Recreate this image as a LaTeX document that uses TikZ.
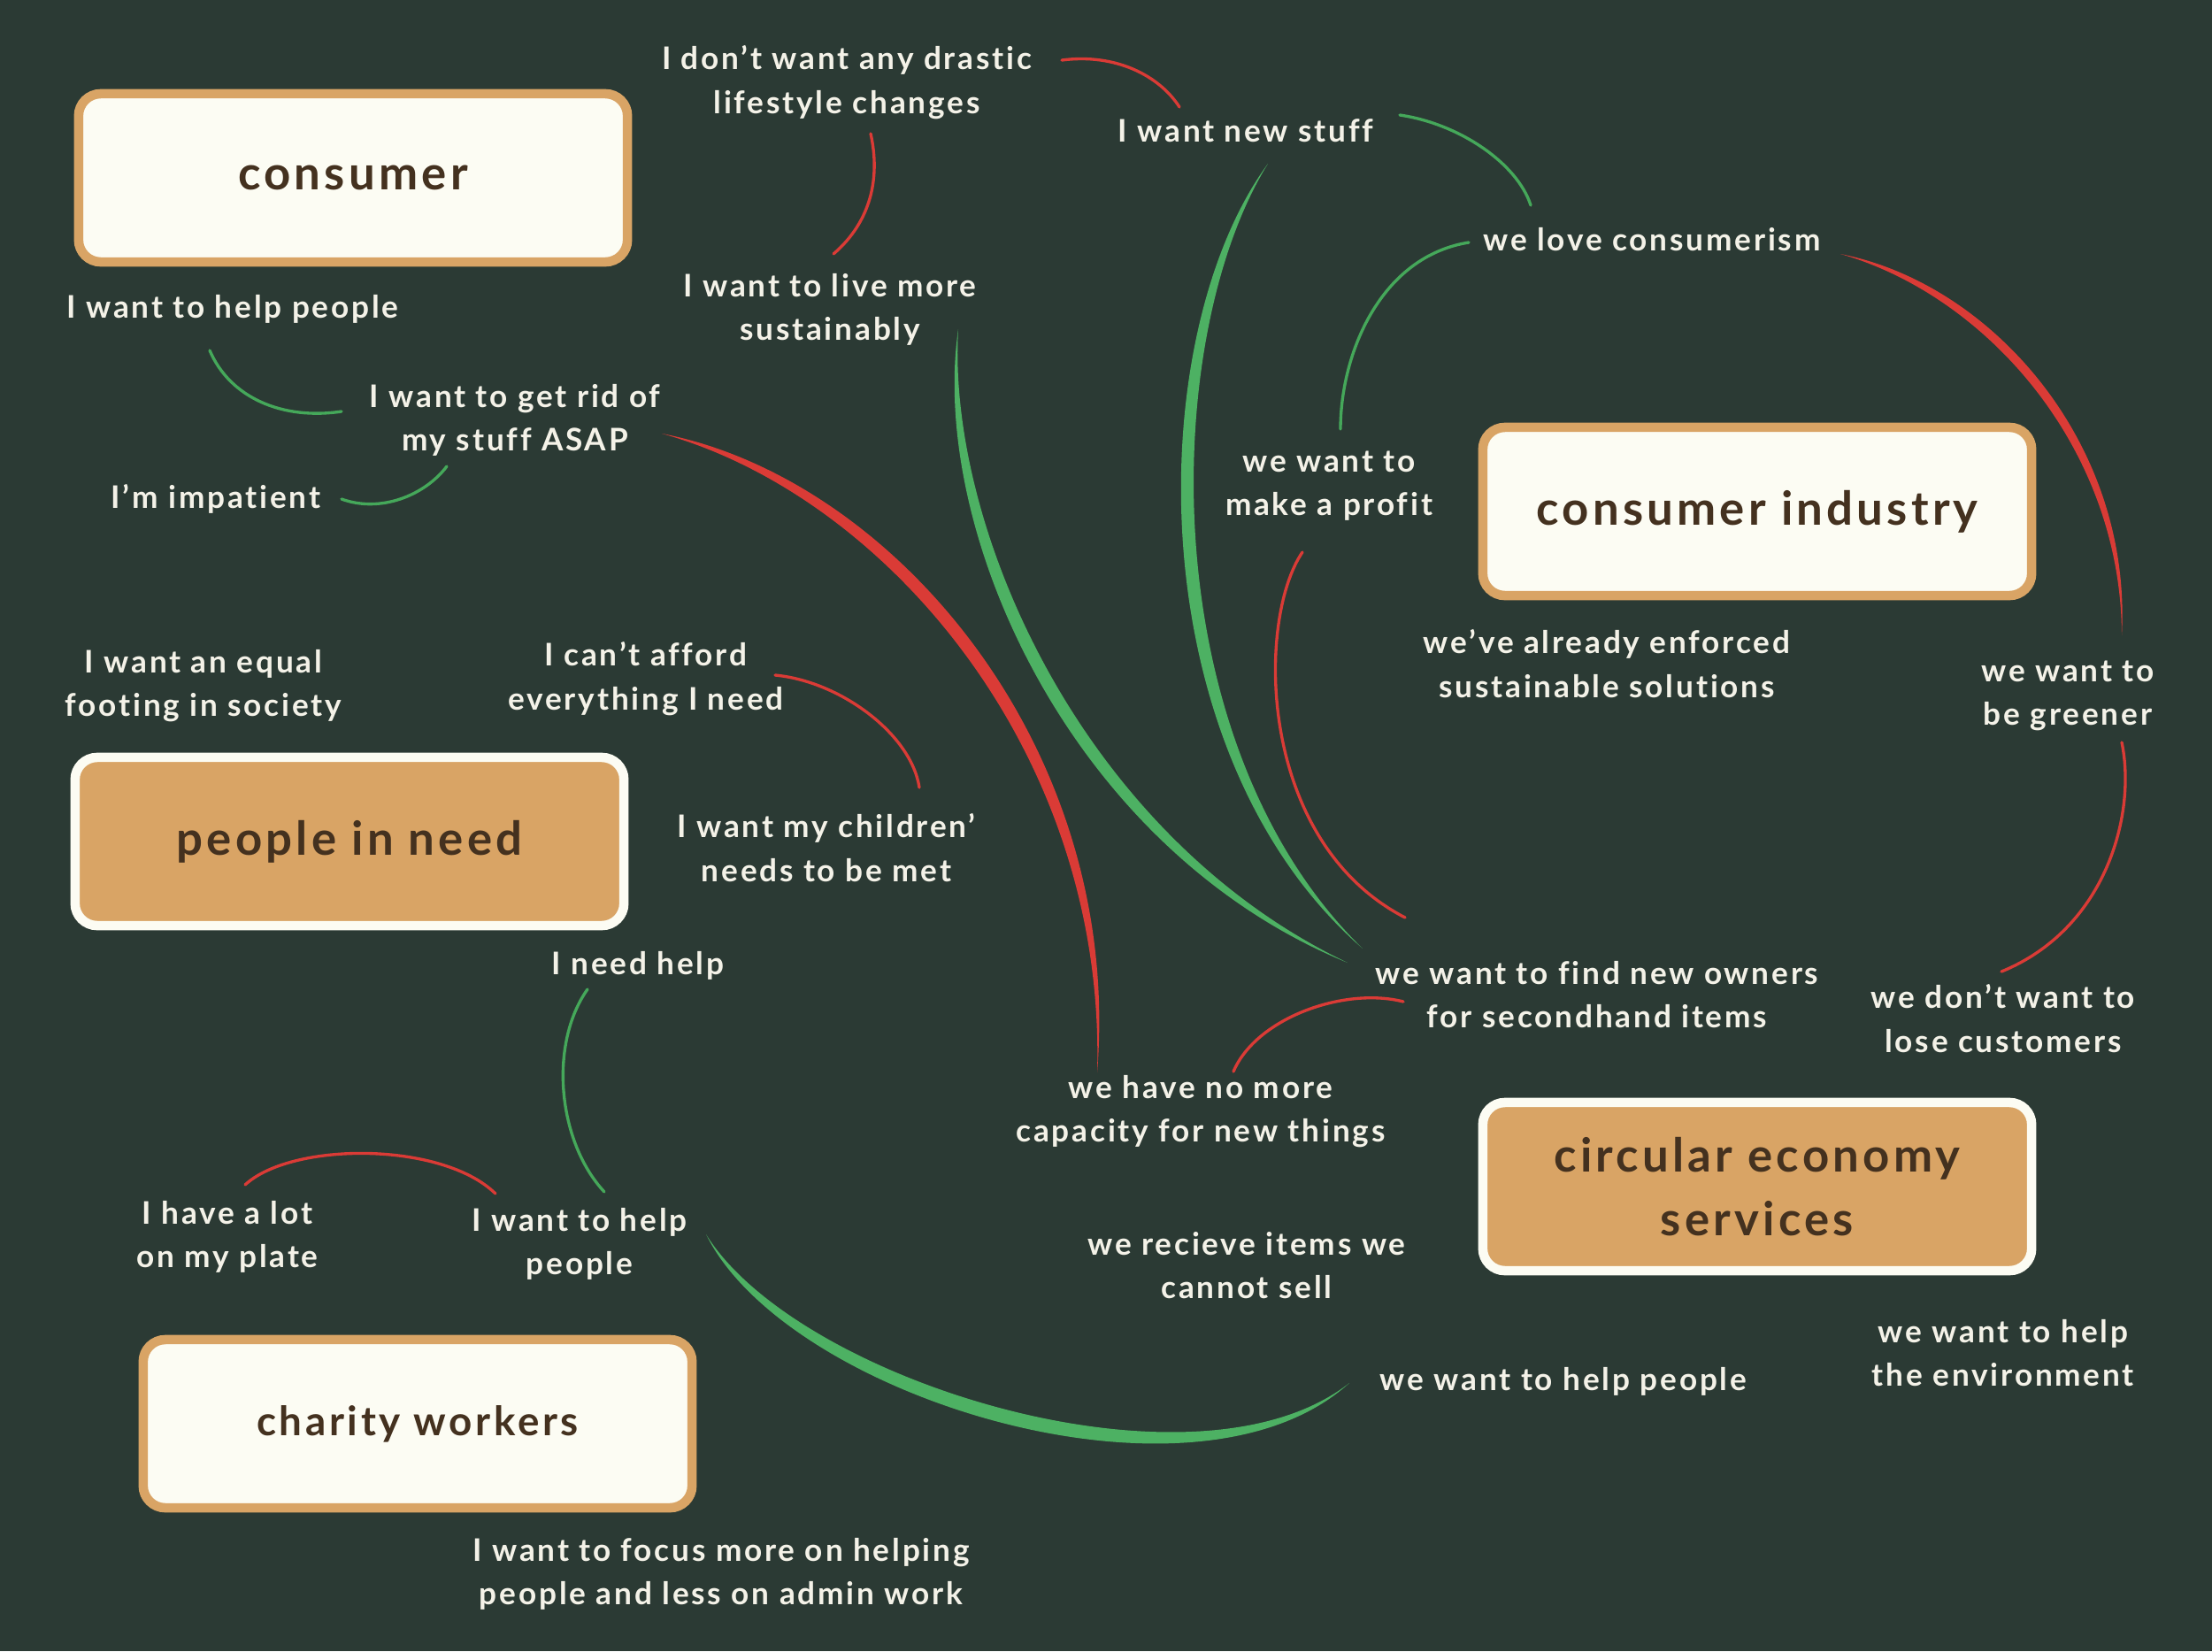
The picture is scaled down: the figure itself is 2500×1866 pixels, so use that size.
\documentclass[tikz,border=0pt]{standalone}
\usepackage{fontspec}
\setmainfont{Lato}[LetterSpace=8, Ligatures=CommonOff]
\usetikzlibrary{calc}
\definecolor{bg}{HTML}{2B3A34}
\definecolor{cream}{HTML}{FCFCF3}
\definecolor{tan}{HTML}{D9A465}
\definecolor{ink}{HTML}{44311F}
\definecolor{txt}{HTML}{F4F2E8}
\definecolor{gr}{HTML}{4DB163}
\definecolor{grthin}{HTML}{45A85A}
\definecolor{rd}{HTML}{DA3B36}
\newcommand\brushstroke[7]{\fill[#1] (#2) .. controls (#3) and (#4) .. (#5) .. controls ($(#4)+(#7)$) and ($(#3)+(#6)$) .. (#2);}
\tikzset{
  lbl/.style={text=txt, font=\fontsize{10}{14}\selectfont\bfseries, align=center, inner sep=0pt},
  boxw/.style={draw=tan, fill=cream, line width=3pt, rounded corners=0.25cm, minimum width=6.2cm, minimum height=1.9cm, text=ink, font=\fontsize{15}{20.4}\selectfont\bfseries, align=center},
  boxo/.style={boxw, draw=cream, fill=tan},
  thinr/.style={draw=rd, line width=0.95pt, line cap=round},
  thing/.style={draw=grthin, line width=0.95pt, line cap=round}
}
\begin{document}
\begin{tikzpicture}[x=0.01cm,y=-0.01cm]
\fill[bg] (0,0) rectangle (2500,1866);
\useasboundingbox (0,0) rectangle (2500,1866);

% boxes
\node[boxw] (consumer) at (399,201) {consumer};
\node[boxw] (industry) at (1986,578) {consumer industry};
\node[boxo] (need) at (395,951) {people in need};
\node[boxo] (circular) at (1986,1341) {circular economy\\services};
\node[boxw, font=\fontsize{13}{16}\selectfont\bfseries] (charity) at (472,1609) {charity workers};

% labels
\node[lbl] (n1) at (957,93) {I don’t want any drastic\\lifestyle changes};
\node[lbl] (n2) at (1408,148) {I want new stuff};
\node[lbl] (n3) at (1867,271) {we love consumerism};
\node[lbl] (n4) at (938,350) {I want to live more\\sustainably};
\node[lbl] (n5) at (263,349) {I want to help people};
\node[lbl] (n6) at (582,475) {I want to get rid of\\my stuff ASAP};
\node[lbl] (n7) at (244,564) {I’m impatient};
\node[lbl] (n8) at (1502,549) {we want to\\make a profit};
\node[lbl] (n9) at (1816,750) {we’ve already enforced\\sustainable solutions};
\node[lbl] (n10) at (2337,786) {we want to\\be greener};
\node[lbl] (n11) at (230,775) {I want an equal\\footing in society};
\node[lbl] (n12) at (730,767) {I can’t afford\\everything I need};
\node[lbl] (n13) at (934,958) {I want my children’\\needs to be met};
\node[lbl] (n14) at (721,1091) {I need help};
\node[lbl] (n15) at (1805,1124) {we want to find new owners\\for secondhand items};
\node[lbl] (n16) at (2264,1151) {we don’t want to\\lose customers};
\node[lbl] (n17) at (1357,1256) {we have no more\\capacity for new things};
\node[lbl] (n18) at (257,1398) {I have a lot\\on my plate};
\node[lbl] (n19) at (655,1406) {I want to help\\people};
\node[lbl] (n20) at (1409,1430) {we recieve items we\\cannot sell};
\node[lbl] (n21) at (2264,1529) {we want to help\\the environment};
\node[lbl] (n22) at (1767,1561) {we want to help people};
\node[lbl] (n23) at (815,1779) {I want to focus more on helping\\people and less on admin work};

% endpoints
\coordinate (g1a) at (1433,185);  \coordinate (g1b) at (1540,1072);
\coordinate (g2a) at (1083,372);  \coordinate (g2b) at (1523,1088);
\coordinate (r1a) at (748,490);   \coordinate (r1b) at (1240,1212);
\coordinate (g3a) at (798,1395);  \coordinate (g3b) at (1525,1563);
\coordinate (r2a) at (2080,287);  \coordinate (r2b) at (2398,718);

% thick brush strokes
\brushstroke{gr}{g1a}{1290,380}{1285,850}{g1b}{22,0}{16,-12}
\brushstroke{gr}{g2a}{1050,600}{1210,960}{g2b}{20,-5}{12,-16}
\brushstroke{rd}{r1a}{1000,560}{1250,850}{r1b}{8,-20}{20,-6}
\brushstroke{gr}{g3a}{900,1560}{1350,1700}{g3b}{-12,18}{0,22}
\brushstroke{rd}{r2a}{2250,320}{2410,500}{r2b}{-8,13}{-13,3}

% thin connectors
\coordinate (t1a) at (1200,68);   \coordinate (t1b) at (1333,121);
\coordinate (t2a) at (984,151);   \coordinate (t2b) at (942,287);
\coordinate (t3a) at (1582,130);  \coordinate (t3b) at (1730,232);
\coordinate (t4a) at (1660,274);  \coordinate (t4b) at (1515,485);
\coordinate (t5a) at (237,396);   \coordinate (t5b) at (386,465);
\coordinate (t6a) at (386,564);   \coordinate (t6b) at (505,527);
\coordinate (t7a) at (876,763);   \coordinate (t7b) at (1039,890);
\coordinate (t8a) at (664,1118);  \coordinate (t8b) at (683,1347);
\coordinate (t9a) at (277,1339);  \coordinate (t9b) at (560,1349);
\coordinate (t10a) at (1472,624); \coordinate (t10b) at (1588,1037);
\coordinate (t11a) at (1586,1132);\coordinate (t11b) at (1394,1211);
\coordinate (t12a) at (2398,839); \coordinate (t12b) at (2262,1098);

\draw[thinr] (t1a) .. controls (1260,60) and (1310,85) .. (t1b);
\draw[thinr] (t2a) .. controls (995,200) and (985,250) .. (t2b);
\draw[thing] (t3a) .. controls (1650,140) and (1715,185) .. (t3b);
\draw[thing] (t4a) .. controls (1560,290) and (1515,400) .. (t4b);
\draw[thing] (t5a) .. controls (260,450) and (320,475) .. (t5b);
\draw[thing] (t6a) .. controls (430,580) and (480,560) .. (t6b);
\draw[thinr] (t7a) .. controls (950,770) and (1030,830) .. (t7b);
\draw[thing] (t8a) .. controls (620,1180) and (630,1290) .. (t8b);
\draw[thinr] (t9a) .. controls (330,1290) and (500,1290) .. (t9b);
\draw[thinr] (t10a) .. controls (1420,700) and (1420,950) .. (t10b);
\draw[thinr] (t11a) .. controls (1520,1115) and (1420,1150) .. (t11b);
\draw[thinr] (t12a) .. controls (2415,920) and (2380,1050) .. (t12b);
\end{tikzpicture}
\end{document}
